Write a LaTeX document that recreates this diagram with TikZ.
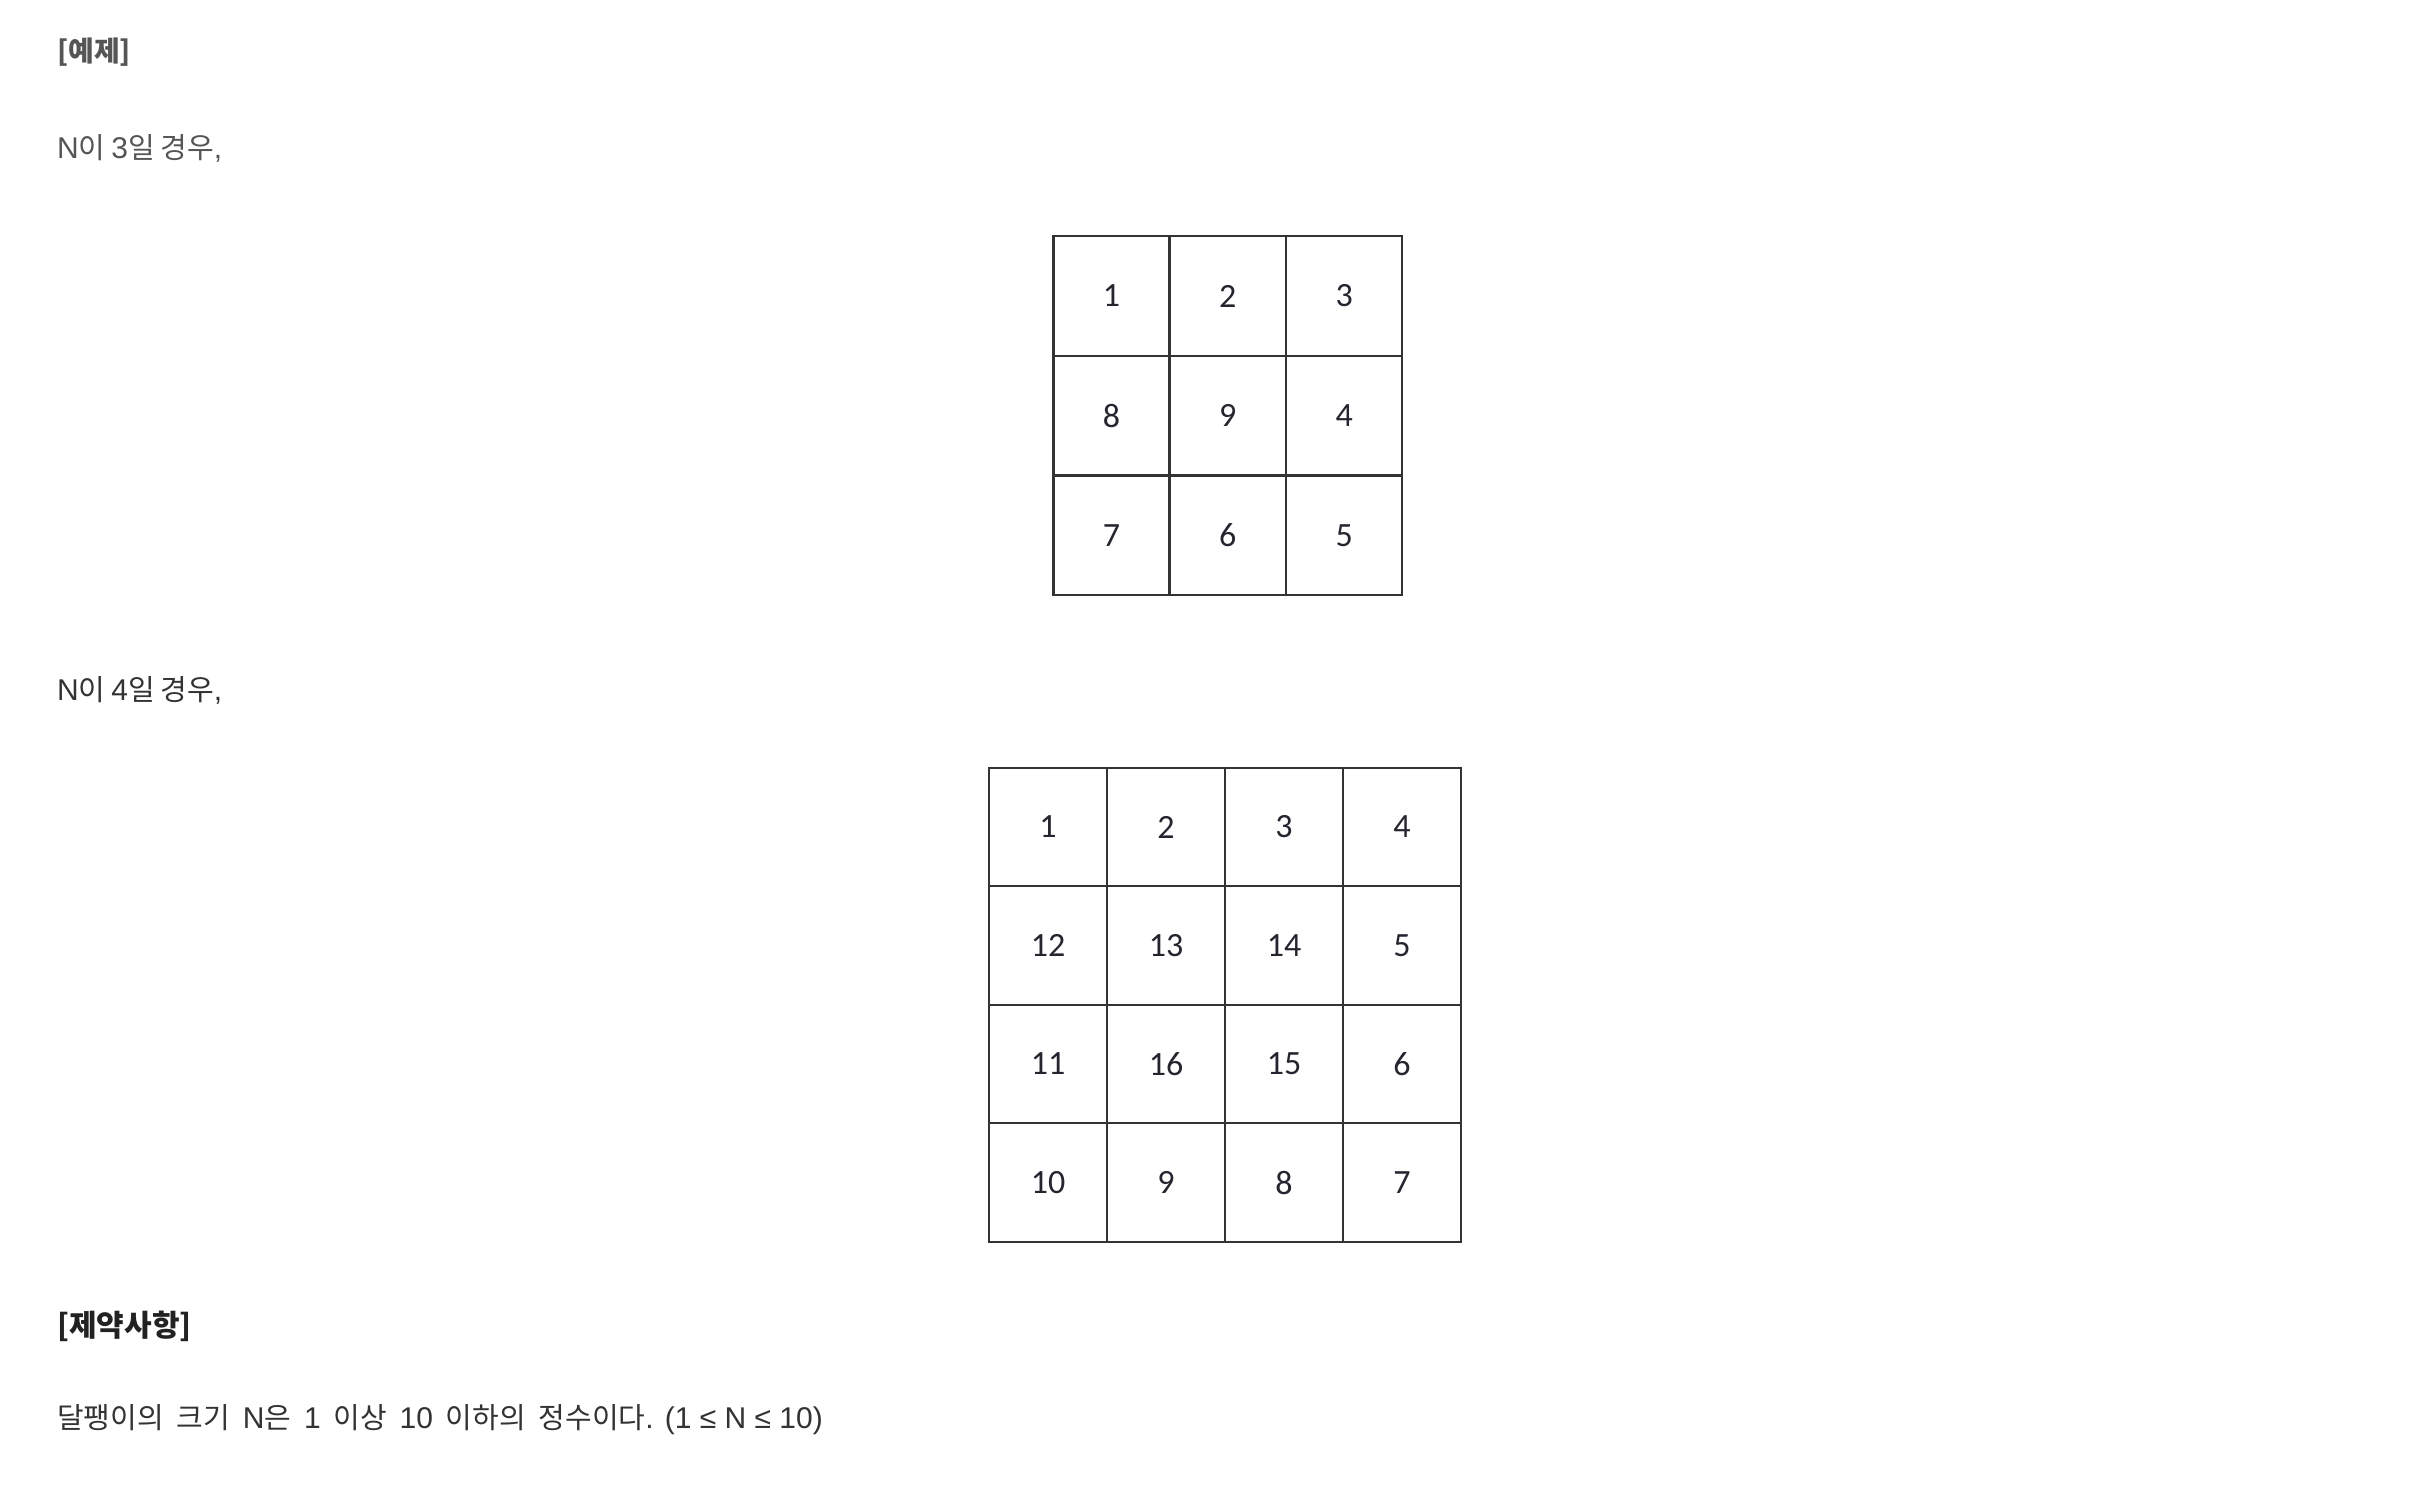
\documentclass[tikz,border=0pt]{standalone}
\usepackage{fontspec}
\usepackage{xcolor}
\newfontfamily\kofont{Noto Sans CJK KR}
\newfontfamily\latinfont{Liberation Sans}
\newfontfamily\numfont{Carlito}
\newcommand\la[1]{{\spaceskip=0pt\latinfont\fontsize{30}{30}\selectfont #1}}
\definecolor{graytext}{HTML}{555555}
\definecolor{darktext}{HTML}{333333}
\definecolor{headtext}{HTML}{222222}
\definecolor{gridline}{HTML}{333333}
\definecolor{numtext}{HTML}{252530}
\tikzset{
  label/.style={anchor=base west,inner sep=0pt,font={\kofont\fontsize{29}{29}\selectfont\spaceskip=5.8pt\relax}},
  header/.style={anchor=base west,inner sep=0pt,font=\kofont\bfseries\fontsize{28}{28}\selectfont},
  cellbox/.style={draw=gridline,line width=2.4pt,inner sep=0pt,text=numtext,
    font=\numfont\fontsize{34}{34}\selectfont}
}
\begin{document}
\begin{tikzpicture}[x=1pt,y=-1pt]
  \useasboundingbox[fill=white] (0,0) rectangle (2430,1492);

  \node (head1) at (57,61) [header,text=graytext] {[예제]};
  \node (case3) at (57,158) [label,text=graytext] {\la{N}이 \la{3}일 경우\la{,}};

  % N = 3
  \foreach \row [count=\r from 0] in {{1,2,3},{8,9,4},{7,6,5}}
    \foreach \v [count=\c from 0] in \row
      \node (s-\r-\c) at (1111.5+116.3*\c,296+119.7*\r) [cellbox,minimum width=116.3pt,minimum height=119.7pt] {\v};

  \node (case4) at (57,700) [label,text=darktext] {\la{N}이 \la{4}일 경우\la{,}};

  % N = 4
  \foreach \row [count=\r from 0] in {{1,2,3,4},{12,13,14,5},{11,16,15,6},{10,9,8,7}}
    \foreach \v [count=\c from 0] in \row
      \node (b-\r-\c) at (1048+118*\c,827+118.5*\r) [cellbox,minimum width=118pt,minimum height=118.5pt] {\v};

  \node (head2) at (57,1336) [header,text=headtext,font=\kofont\bfseries\fontsize{30}{30}\selectfont] {[제약사항]};
  \node (rule) at (57,1428) [label,text=darktext,font={\kofont\fontsize{29}{29}\selectfont\spaceskip=12.8pt\relax}] {달팽이의 크기 \la{N}은 \la{1} 이상 \la{10} 이하의 정수이다\la{. (1 ≤ N ≤ 10)}};
\end{tikzpicture}
\end{document}
